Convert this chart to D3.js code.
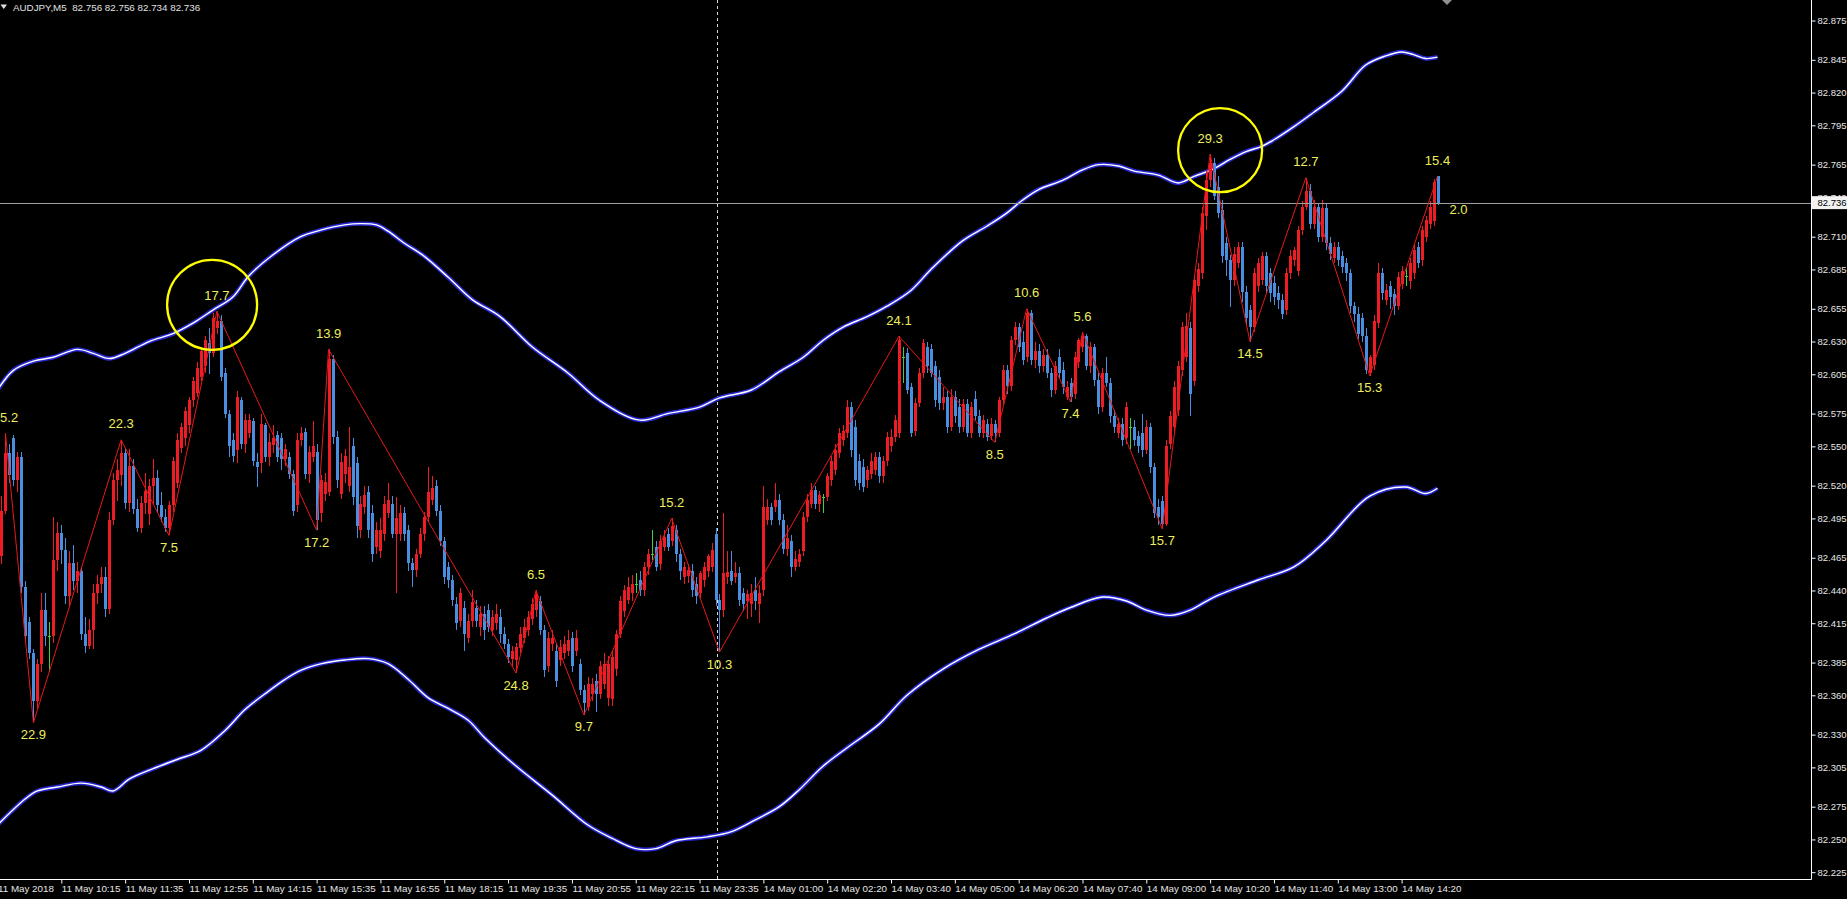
<!DOCTYPE html>
<html><head><meta charset="utf-8">
<script src="https://cdn.jsdelivr.net/npm/d3@7"></script>
<style>html,body{margin:0;padding:0;background:#000;overflow:hidden}</style>
</head><body>
<svg id="c" width="1847" height="899"></svg>
<script>
// ---------------- DATA ----------------
const symbolTitle = "AUDJPY,M5";
const headerQuote = [82.756, 82.756, 82.734, 82.736];
const bidPrice = 82.736;
const legLabel = "2.0";
const separatorIndex = 180.5;

const timeLabels = ["11 May 2018","11 May 10:15","11 May 11:35","11 May 12:55","11 May 14:15","11 May 15:35",
  "11 May 16:55","11 May 18:15","11 May 19:35","11 May 20:55","11 May 22:15","11 May 23:35",
  "14 May 01:00","14 May 02:20","14 May 03:40","14 May 05:00","14 May 06:20","14 May 07:40",
  "14 May 09:00","14 May 10:20","14 May 11:40","14 May 13:00","14 May 14:20"];
const timeLabelIndex = [0,16,32,48,64,80,96,112,128,144,160,176,192,208,224,240,256,272,288,304,320,336,352];

const priceTicks = [82.875,82.845,82.820,82.795,82.765,82.740,82.710,82.685,82.655,82.630,82.605,82.575,
  82.550,82.520,82.495,82.465,82.440,82.415,82.385,82.360,82.330,82.305,82.275,82.250,82.225];

const opens = [
82.440,82.466,82.501,82.545,82.556,82.524,82.542,82.443,82.416,82.392,
82.356,82.384,82.425,82.405,82.405,82.463,82.484,82.471,82.436,82.461,
82.447,82.455,82.407,82.398,82.410,82.438,82.445,82.450,82.426,82.494,
82.524,82.528,82.545,82.507,82.535,82.502,82.488,82.507,82.498,82.520,
82.526,82.505,82.496,82.488,82.505,82.522,82.549,82.556,82.566,82.585,
82.591,82.603,82.611,82.629,82.621,82.640,82.646,82.606,82.575,82.555,
82.547,82.585,82.552,82.560,82.569,82.538,82.537,82.566,82.542,82.551,
82.559,82.556,82.540,82.542,82.529,82.505,82.555,82.561,82.529,82.542,
82.546,82.499,82.514,82.515,82.617,82.557,82.514,82.529,82.520,82.550,
82.537,82.486,82.504,82.515,82.499,82.473,82.470,82.483,82.499,82.506,
82.483,82.483,82.499,82.486,82.461,82.456,82.468,82.483,82.496,82.509,
82.520,82.501,82.478,82.458,82.448,82.430,82.417,82.427,82.404,82.417,
82.427,82.412,82.422,82.425,82.410,82.415,82.420,82.407,82.399,82.388,
82.387,82.396,82.404,82.410,82.418,82.425,82.432,82.410,82.382,82.399,
82.394,82.387,82.392,82.394,82.404,82.394,82.384,82.364,82.351,82.361,
82.371,82.361,82.369,82.358,82.357,82.380,82.407,82.424,82.433,82.438,
82.445,82.448,82.440,82.458,82.468,82.473,82.460,82.473,82.483,82.478,
82.486,82.468,82.450,82.451,82.455,82.445,82.438,82.448,82.455,82.458,
82.483,82.433,82.425,82.450,82.455,82.450,82.453,82.438,82.432,82.430,
82.440,82.430,82.440,82.494,82.504,82.504,82.509,82.494,82.472,82.478,
82.458,82.462,82.470,82.496,82.506,82.517,82.506,82.511,82.511,82.524,
82.532,82.545,82.555,82.560,82.580,82.565,82.539,82.534,82.524,82.529,
82.532,82.542,82.527,82.539,82.550,82.557,82.560,82.618,82.621,82.595,
82.562,82.583,82.606,82.626,82.624,82.611,82.603,82.583,82.588,82.565,
82.588,82.580,82.565,82.582,82.560,82.586,82.573,82.560,82.567,82.558,
82.567,82.560,82.585,82.608,82.596,82.631,82.641,82.630,82.618,82.652,
82.616,82.623,82.611,82.620,82.606,82.593,82.618,82.608,82.588,82.598,
82.590,82.614,82.626,82.634,82.611,82.626,82.601,82.580,82.606,82.598,
82.573,82.560,82.567,82.556,82.565,82.565,82.558,82.560,82.547,82.565,
82.534,82.504,82.508,82.491,82.552,82.565,82.578,82.608,82.618,82.640,
82.600,82.672,82.682,82.726,82.753,82.766,82.748,82.730,82.705,82.692,
82.677,82.690,82.702,82.668,82.654,82.641,82.672,82.677,82.695,82.682,
82.675,82.667,82.662,82.654,82.682,82.692,82.684,82.715,82.733,82.745,
82.720,82.733,82.710,82.732,82.705,82.694,82.702,82.695,82.690,82.682,
82.657,82.651,82.648,82.634,82.606,82.612,82.644,82.682,82.662,82.672,
82.666,82.657,82.674,82.680,82.676,82.682,82.702,82.692,82.710,82.720,
82.722,82.756];

const highs = [
82.470,82.512,82.560,82.552,82.559,82.546,82.546,82.447,82.420,82.395,
82.388,82.438,82.438,82.416,82.496,82.492,82.490,82.480,82.470,82.475,
82.462,82.458,82.420,82.418,82.445,82.452,82.458,82.458,82.500,82.530,
82.540,82.555,82.548,82.548,82.540,82.510,82.512,82.530,82.525,82.540,
82.532,82.515,82.502,82.508,82.542,82.560,82.568,82.580,82.588,82.603,
82.614,82.626,82.634,82.640,82.652,82.653,82.650,82.610,82.578,82.560,
82.592,82.588,82.575,82.575,82.572,82.545,82.575,82.568,82.560,82.566,
82.562,82.560,82.552,82.546,82.532,82.560,82.565,82.564,82.550,82.569,
82.552,82.528,82.530,82.624,82.620,82.562,82.545,82.548,82.565,82.556,
82.542,82.512,82.520,82.520,82.505,82.492,82.495,82.512,82.522,82.512,
82.511,82.505,82.504,82.490,82.465,82.472,82.488,82.500,82.534,82.527,
82.524,82.505,82.481,82.462,82.452,82.435,82.442,82.432,82.422,82.440,
82.433,82.428,82.428,82.430,82.425,82.430,82.426,82.412,82.403,82.398,
82.400,82.412,82.418,82.424,82.434,82.440,82.436,82.414,82.408,82.410,
82.400,82.402,82.405,82.410,82.408,82.410,82.388,82.368,82.374,82.373,
82.376,82.386,82.392,82.390,82.394,82.410,82.436,82.444,82.450,82.452,
82.453,82.455,82.462,82.472,82.486,82.478,82.482,82.486,82.488,82.495,
82.490,82.472,82.462,82.460,82.460,82.450,82.455,82.462,82.468,82.476,
82.488,82.437,82.499,82.470,82.470,82.462,82.458,82.442,82.440,82.445,
82.450,82.444,82.520,82.510,82.507,82.522,82.514,82.498,82.490,82.482,
82.470,82.472,82.500,82.514,82.522,82.520,82.516,82.514,82.530,82.543,
82.552,82.564,82.566,82.585,82.584,82.570,82.544,82.540,82.535,82.545,
82.546,82.546,82.543,82.561,82.563,82.574,82.634,82.626,82.625,82.598,
82.587,82.610,82.632,82.630,82.628,82.615,82.608,82.595,82.592,82.594,
82.592,82.586,82.586,82.586,82.584,82.592,82.578,82.574,82.571,82.572,
82.570,82.588,82.612,82.612,82.634,82.645,82.644,82.638,82.655,82.654,
82.630,82.628,82.624,82.624,82.610,82.615,82.624,82.614,82.600,82.602,
82.622,82.633,82.637,82.636,82.630,82.628,82.606,82.610,82.618,82.602,
82.578,82.572,82.572,82.584,82.572,82.570,82.562,82.575,82.570,82.568,
82.537,82.510,82.512,82.555,82.577,82.600,82.615,82.645,82.652,82.645,
82.680,82.690,82.733,82.760,82.773,82.770,82.756,82.738,82.710,82.696,
82.702,82.706,82.706,82.672,82.658,82.686,82.694,82.698,82.698,82.686,
82.680,82.672,82.666,82.686,82.700,82.702,82.718,82.737,82.755,82.750,
82.738,82.736,82.738,82.735,82.710,82.706,82.706,82.699,82.694,82.685,
82.660,82.656,82.652,82.640,82.620,82.650,82.690,82.686,82.674,82.676,
82.670,82.683,82.688,82.687,82.694,82.704,82.706,82.718,82.726,82.737,
82.754,82.756];

const lows = [
82.430,82.460,82.498,82.522,82.520,82.515,82.438,82.400,82.388,82.339,
82.350,82.378,82.398,82.378,82.400,82.455,82.460,82.430,82.428,82.440,
82.438,82.402,82.392,82.395,82.395,82.430,82.438,82.420,82.422,82.490,
82.508,82.520,82.502,82.500,82.498,82.485,82.484,82.498,82.490,82.505,
82.500,82.492,82.485,82.482,82.500,82.518,82.545,82.550,82.560,82.580,
82.588,82.600,82.606,82.605,82.618,82.636,82.600,82.572,82.542,82.538,
82.537,82.548,82.545,82.556,82.535,82.519,82.530,82.538,82.535,82.545,
82.538,82.532,82.535,82.525,82.497,82.500,82.550,82.525,82.522,82.538,
82.486,82.492,82.508,82.512,82.552,82.518,82.510,82.522,82.515,82.505,
82.480,82.480,82.498,82.480,82.462,82.468,82.465,82.478,82.495,82.480,
82.438,82.478,82.478,82.455,82.443,82.450,82.465,82.478,82.492,82.505,
82.497,82.474,82.445,82.442,82.428,82.410,82.412,82.394,82.400,82.412,
82.412,82.405,82.402,82.408,82.405,82.410,82.400,82.395,82.385,82.382,
82.377,82.392,82.400,82.405,82.414,82.420,82.406,82.374,82.378,82.394,
82.366,82.382,82.388,82.390,82.378,82.390,82.360,82.345,82.348,82.356,
82.347,82.357,82.365,82.352,82.352,82.375,82.404,82.420,82.430,82.432,
82.438,82.436,82.436,82.452,82.463,82.455,82.456,82.470,82.470,82.474,
82.462,82.448,82.445,82.446,82.435,82.430,82.434,82.443,82.450,82.454,
82.428,82.393,82.420,82.445,82.444,82.446,82.428,82.424,82.418,82.420,
82.425,82.415,82.436,82.490,82.490,82.500,82.490,82.468,82.466,82.450,
82.455,82.458,82.466,82.492,82.503,82.502,82.500,82.499,82.508,82.520,
82.528,82.541,82.550,82.556,82.542,82.520,82.517,82.515,82.518,82.525,
82.528,82.522,82.522,82.535,82.546,82.553,82.556,82.598,82.590,82.557,
82.558,82.580,82.602,82.606,82.603,82.580,82.578,82.578,82.560,82.562,
82.568,82.560,82.561,82.557,82.556,82.570,82.557,82.556,82.554,82.555,
82.553,82.557,82.582,82.590,82.592,82.627,82.622,82.612,82.614,82.612,
82.610,82.606,82.607,82.602,82.588,82.590,82.602,82.590,82.585,82.584,
82.586,82.610,82.622,82.608,82.606,82.596,82.575,82.576,82.595,82.568,
82.560,82.556,82.550,82.552,82.548,82.550,82.545,82.542,82.544,82.530,
82.495,82.490,82.487,82.489,82.548,82.560,82.573,82.604,82.614,82.573,
82.596,82.668,82.678,82.715,82.748,82.738,82.724,82.690,82.680,82.656,
82.672,82.686,82.660,82.642,82.630,82.637,82.668,82.673,82.667,82.660,
82.658,82.655,82.647,82.650,82.678,82.688,82.680,82.711,82.730,82.716,
82.716,82.706,82.706,82.700,82.692,82.690,82.688,82.682,82.676,82.652,
82.645,82.632,82.630,82.605,82.604,82.608,82.640,82.662,82.658,82.655,
82.650,82.654,82.670,82.672,82.670,82.678,82.686,82.688,82.706,82.716,
82.718,82.734];

const closes = [
82.465,82.501,82.545,82.528,82.524,82.542,82.443,82.405,82.392,82.356,
82.384,82.425,82.405,82.405,82.463,82.484,82.471,82.436,82.461,82.447,
82.455,82.407,82.398,82.410,82.438,82.445,82.450,82.426,82.494,82.524,
82.532,82.545,82.507,82.535,82.502,82.488,82.507,82.516,82.520,82.526,
82.505,82.496,82.488,82.505,82.539,82.555,82.565,82.577,82.585,82.600,
82.610,82.623,82.631,82.621,82.648,82.646,82.603,82.575,82.550,82.543,
82.588,82.552,82.570,82.570,82.539,82.534,82.567,82.542,82.553,82.556,
82.542,82.540,82.548,82.529,82.501,82.555,82.560,82.529,82.546,82.550,
82.494,82.524,82.523,82.617,82.557,82.524,82.538,82.543,82.534,82.511,
82.489,82.506,82.513,82.486,82.468,82.486,82.486,82.506,82.509,82.483,
82.495,82.499,82.483,82.461,82.456,82.468,82.483,82.496,82.515,82.518,
82.501,82.478,82.450,82.448,82.433,82.415,82.438,82.407,82.417,82.431,
82.417,82.422,82.410,82.412,82.420,82.422,82.407,82.399,82.389,82.394,
82.397,82.407,82.412,82.420,82.430,82.437,82.410,82.379,82.404,82.404,
82.371,82.397,82.399,82.402,82.382,82.404,82.364,82.354,82.369,82.369,
82.361,82.382,82.384,82.384,82.389,82.407,82.432,82.440,82.443,82.445,
82.445,82.440,82.458,82.468,82.468,82.458,82.478,82.481,82.473,82.489,
82.468,82.455,82.458,82.456,82.440,82.436,82.453,82.458,82.466,82.471,
82.433,82.425,82.453,82.454,82.447,82.453,82.433,82.430,82.437,82.438,
82.432,82.438,82.504,82.504,82.494,82.509,82.494,82.472,82.480,82.458,
82.464,82.468,82.496,82.509,82.517,82.506,82.513,82.511,82.527,82.539,
82.547,82.560,82.562,82.580,82.547,82.524,82.522,82.519,82.532,82.539,
82.542,82.527,82.539,82.557,82.557,82.570,82.631,82.618,82.593,82.560,
82.583,82.606,82.629,82.611,82.606,82.585,82.583,82.588,82.565,82.588,
82.573,82.565,82.582,82.560,82.580,82.573,82.560,82.570,82.557,82.567,
82.560,82.585,82.608,82.596,82.631,82.641,82.626,82.616,82.652,82.616,
82.623,82.611,82.620,82.606,82.593,82.611,82.606,82.595,82.595,82.588,
82.618,82.631,82.634,82.611,82.626,82.601,82.580,82.606,82.598,82.573,
82.565,82.567,82.555,82.580,82.565,82.555,82.550,82.547,82.565,82.534,
82.499,82.496,82.491,82.550,82.573,82.595,82.611,82.641,82.642,82.590,
82.677,82.685,82.728,82.753,82.766,82.741,82.728,82.695,82.692,82.677,
82.697,82.702,82.668,82.648,82.641,82.682,82.690,82.695,82.672,82.667,
82.664,82.662,82.651,82.682,82.695,82.700,82.715,82.733,82.745,82.720,
82.733,82.710,82.732,82.705,82.697,82.702,82.692,82.687,82.682,82.657,
82.651,82.636,82.634,82.608,82.618,82.646,82.682,82.667,82.669,82.664,
82.657,82.679,82.684,82.680,82.690,82.700,82.690,82.715,82.723,82.733,
82.752,82.736];

const zigzagIndex = [2,9,31,43,55,80,83,130,135,147,169,181,226,250,258,269,272,292,304,314,328,344,361];
const zigzagPrice = [82.560,82.339,82.555,82.482,82.653,82.486,82.624,82.377,82.440,82.345,82.495,82.393,
  82.634,82.553,82.655,82.584,82.637,82.487,82.773,82.630,82.755,82.604,82.756];
const zigzagLabel = ["15.2","22.9","22.3","7.5","17.7","17.2","13.9","24.8","6.5","9.7","15.2","10.3",
  "24.1","8.5","10.6","7.4","5.6","15.7","29.3","14.5","12.7","15.3","15.4"];

const upperBand = [[0,82.593],[4,82.608],[9,82.615],[14,82.618],[20,82.624],[24,82.621],[28,82.617],[32,82.621],
  [38,82.630],[44,82.636],[49,82.644],[54,82.654],[59,82.664],[63,82.680],[69,82.696],[76,82.710],[81,82.715],
  [87,82.719],[91,82.720],[95,82.719],[98,82.714],[102,82.705],[107,82.695],[113,82.679],[119,82.662],
  [126,82.649],[134,82.626],[143,82.606],[151,82.585],[161,82.570],[168,82.575],[176,82.580],[181,82.587],
  [189,82.593],[196,82.607],[202,82.618],[207,82.631],[212,82.641],[218,82.649],[223,82.657],[229,82.669],
  [234,82.685],[242,82.707],[248,82.718],[253,82.728],[257,82.738],[261,82.746],[267,82.753],[272,82.761],
  [276,82.765],[281,82.764],[285,82.760],[291,82.757],[296,82.751],[300,82.756],[305,82.762],[309,82.769],
  [313,82.775],[317,82.779],[320,82.784],[325,82.794],[330,82.805],[337,82.821],[343,82.841],[348,82.848],
  [352,82.851],[355,82.849],[358,82.846],[361,82.847]];

const lowerBand = [[0,82.261],[7,82.281],[10,82.287],[15,82.290],[21,82.293],[26,82.290],[29,82.287],[33,82.296],
  [39,82.304],[45,82.311],[51,82.318],[57,82.333],[62,82.349],[67,82.361],[72,82.372],[76,82.379],[81,82.384],
  [87,82.387],[93,82.388],[98,82.384],[103,82.372],[108,82.358],[113,82.350],[118,82.341],[122,82.328],
  [130,82.306],[139,82.284],[148,82.261],[154,82.251],[160,82.243],[165,82.243],[170,82.249],[178,82.252],
  [184,82.256],[190,82.265],[196,82.275],[201,82.288],[207,82.306],[213,82.320],[221,82.338],[228,82.360],
  [237,82.380],[246,82.395],[255,82.407],[263,82.419],[269,82.427],[277,82.435],[283,82.432],[288,82.425],
  [294,82.421],[299,82.425],[305,82.435],[316,82.448],[325,82.458],[333,82.478],[344,82.512],[353,82.519],
  [358,82.514],[361,82.518]];

const circledPivots = [[53.8, 82.658], [306.5, 82.776]];

// ---------------- CHART ----------------
const W = 1847, H = 899, plotR = 1811, plotB = 879;
const svg = d3.select("#c");
svg.append("rect").attr("width", W).attr("height", H).attr("fill", "#000");

const x = d3.scaleLinear().domain([0, 352]).range([-2.5, 1401.6]);
const y = d3.scaleLinear().domain([82.225, 82.875]).range([872.2, 20.5]);

svg.append("defs").append("clipPath").attr("id", "plot")
  .append("rect").attr("x", 0).attr("y", 0).attr("width", plotR).attr("height", plotB);
const g = svg.append("g").attr("clip-path", "url(#plot)");

// period separator
g.append("line").attr("x1", x(separatorIndex)).attr("x2", x(separatorIndex))
  .attr("y1", 0).attr("y2", plotB).attr("stroke", "#d8d8d8").attr("stroke-width", 1)
  .attr("stroke-dasharray", "3,3").attr("shape-rendering", "crispEdges");

// bands
const bandLine = d3.line().x(d => x(d[0])).y(d => y(d[1])).curve(d3.curveCatmullRom.alpha(0.5));
[upperBand, lowerBand].forEach(b => {
  g.append("path").attr("d", bandLine(b)).attr("fill", "none").attr("stroke", "#2626cc").attr("stroke-width", 4.4);
  g.append("path").attr("d", bandLine(b)).attr("fill", "none").attr("stroke", "#ffffff").attr("stroke-width", 1.4);
});

// candles
const bars = d3.range(closes.length);
const colorOf = i => closes[i] > opens[i] ? "#ee1c24" : (closes[i] < opens[i] ? "#4a8ee0" : "#3fcf3f");
const cg = g.append("g").attr("shape-rendering", "crispEdges");
cg.selectAll("line.w").data(bars).join("line").attr("class", "w")
  .attr("x1", i => Math.round(x(i)) + 0.5).attr("x2", i => Math.round(x(i)) + 0.5)
  .attr("y1", i => y(highs[i])).attr("y2", i => y(lows[i]))
  .attr("stroke", colorOf).attr("stroke-width", 1);
cg.selectAll("rect.b").data(bars).join("rect").attr("class", "b")
  .attr("x", i => Math.round(x(i)) - 1).attr("width", 3)
  .attr("y", i => y(Math.max(opens[i], closes[i])))
  .attr("height", i => Math.max(1, Math.abs(y(opens[i]) - y(closes[i]))))
  .attr("fill", colorOf);

// bid line
g.append("line").attr("x1", 0).attr("x2", plotR).attr("y1", Math.round(y(bidPrice)) + 0.5).attr("y2", Math.round(y(bidPrice)) + 0.5)
  .attr("stroke", "#a0a0a0").attr("stroke-width", 1);

// zigzag
const zz = zigzagIndex.map((d, k) => [d, zigzagPrice[k]]);
g.append("path").attr("d", d3.line().x(d => x(d[0])).y(d => y(d[1]))(zz))
  .attr("fill", "none").attr("stroke", "#e81818").attr("stroke-width", 1);

// zigzag labels
const lblFont = "'Liberation Sans', Arial, sans-serif";
zz.forEach((d, k) => {
  const ref = k > 0 ? zz[k - 1][1] : zz[k + 1][1];
  const isHigh = d[1] > ref;
  g.append("text").attr("x", x(d[0])).attr("y", y(d[1]) + (isHigh ? -16 : 12))
    .attr("text-anchor", "middle").attr("dominant-baseline", "central")
    .attr("font-family", lblFont).attr("font-size", 13).attr("fill", "#eeee5c").text(zigzagLabel[k]);
});
g.append("text").attr("x", x(closes.length - 1) + 21).attr("y", y(bidPrice) + 7)
  .attr("text-anchor", "middle").attr("dominant-baseline", "central")
  .attr("font-family", lblFont).attr("font-size", 13).attr("fill", "#eeee5c").text(legLabel);

// circles
const radii = [45, 42];
circledPivots.forEach((c, k) => {
  g.append("circle").attr("cx", x(c[0])).attr("cy", y(c[1])).attr("r", radii[k])
    .attr("fill", "none").attr("stroke", "#ffff00").attr("stroke-width", 2.3);
});

// shift marker
const sx = x(closes.length - 1) + 9.5;
g.append("path").attr("d", `M${sx - 5},0 L${sx + 5},0 L${sx},5 Z`).attr("fill", "#909090");

// frame
svg.append("line").attr("x1", plotR + 0.5).attr("x2", plotR + 0.5).attr("y1", 0).attr("y2", plotB + 0.5)
  .attr("stroke", "#fff").attr("stroke-width", 1);
svg.append("line").attr("x1", 0).attr("x2", plotR + 0.5).attr("y1", plotB + 0.5).attr("y2", plotB + 0.5)
  .attr("stroke", "#fff").attr("stroke-width", 1);

// axes
const axFont = "'Liberation Sans', Tahoma, Arial, sans-serif";
const ya = svg.append("g").attr("transform", `translate(${plotR + 0.5},0)`)
  .call(d3.axisRight(y).tickValues(priceTicks).tickSize(4).tickSizeOuter(0).tickFormat(d3.format(".3f")));
ya.select(".domain").remove();
ya.selectAll(".tick line").attr("stroke", "#fff");
ya.selectAll(".tick text").attr("x", 6).attr("fill", "#e6e6e6").attr("font-family", axFont).attr("font-size", 9.5);

const xa = svg.append("g").attr("transform", `translate(0,${plotB + 0.5})`)
  .call(d3.axisBottom(x).tickValues(timeLabelIndex).tickSize(4).tickSizeOuter(0)
    .tickFormat((d, k) => timeLabels[k]));
xa.select(".domain").remove();
xa.selectAll(".tick line").attr("stroke", "#fff");
xa.selectAll(".tick text").attr("text-anchor", "start").attr("x", 0).attr("y", 12.5).attr("dy", 0)
  .attr("fill", "#e6e6e6").attr("font-family", axFont).attr("font-size", 9.8);

// bid price box
const by = y(bidPrice);
svg.append("rect").attr("x", plotR + 1).attr("y", by - 6.5).attr("width", W - plotR - 1).attr("height", 13).attr("fill", "#f2f2f2");
svg.append("text").attr("x", plotR + 6.5).attr("y", by).attr("dominant-baseline", "central")
  .attr("font-family", axFont).attr("font-size", 9.5).attr("fill", "#000").text(d3.format(".3f")(bidPrice));

// header
svg.append("path").attr("d", "M0.5,4.5 L7,4.5 L3.75,9 Z").attr("fill", "#e0e0e0");
svg.append("text").attr("x", 13).attr("y", 10.5).attr("font-family", axFont).attr("font-size", 9.8)
  .attr("fill", "#e0e0e0").attr("xml:space", "preserve")
  .text(symbolTitle + "  " + headerQuote.map(d3.format(".3f")).join(" "));
</script>
</body></html>
